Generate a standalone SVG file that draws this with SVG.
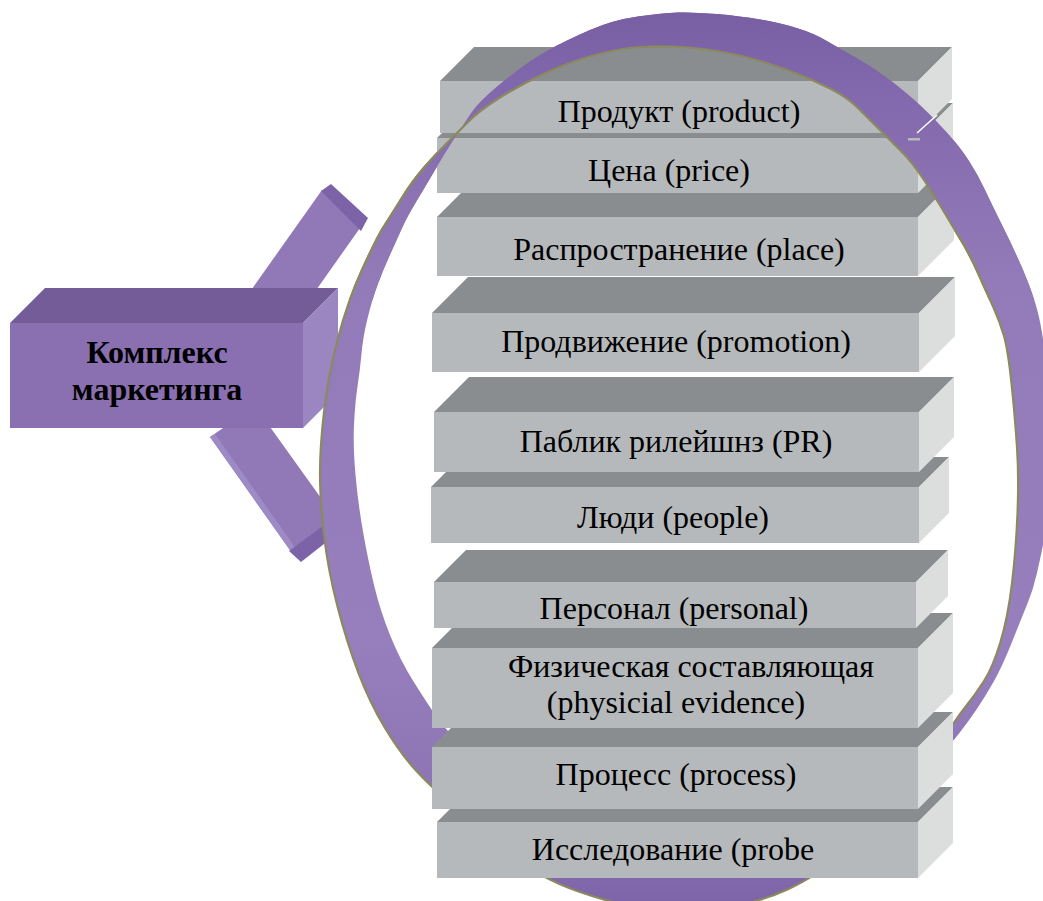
<svg xmlns="http://www.w3.org/2000/svg" width="1043" height="901" viewBox="0 0 1043 901">
<defs>
<style>
.top{fill:#8a8d90}
.front{fill:#b6b9bb}
.side{fill:#dcdedd}
.lbl{font-family:"Liberation Serif","Times New Roman",serif;font-size:32px;fill:#000;text-anchor:middle}
.klbl{font-family:"Liberation Serif","Times New Roman",serif;font-size:32px;font-weight:bold;fill:#000;text-anchor:middle}
.ktop{fill:#735c98}
.kfront{fill:#8a70b0}
.kside{fill:#9c86c2}
.shaft{fill:#9079b6}
.cap{fill:#7c63a8}
.hl{fill:#9e8ac5}
.olive{fill:none;stroke:#8a8a5e;stroke-width:2.2;stroke-linejoin:round}
</style>
<linearGradient id="ringGrad" gradientUnits="userSpaceOnUse" x1="0" y1="12" x2="0" y2="910">
<stop offset="0" stop-color="#785ea2"/>
<stop offset="0.1" stop-color="#8369ad"/>
<stop offset="0.3" stop-color="#937bb9"/>
<stop offset="0.7" stop-color="#967fbc"/>
<stop offset="0.9" stop-color="#8c73b3"/>
<stop offset="1" stop-color="#7c62a7"/>
</linearGradient>
<path id="bandShape" fill="url(#ringGrad)" fill-rule="evenodd" d="M630,48 Q647,46 670,46.5 Q693,47 716.5,51 Q740,55 760,61 Q780,67 796.5,73.5 Q813,80 830,88.5 Q847,97 858.5,108.5 Q870,120 880,130 Q890,140 901.5,151.5 Q913,163 925,181.5 Q937,200 945,213.5 Q953,227 961.5,241 Q970,255 978.5,274 Q987,293 993.5,307.5 Q1000,322 1004,336 Q1008,350 1011.5,383.5 Q1015,417 1017,447 Q1019,477 1017.5,513.5 Q1016,550 1012,583.5 Q1008,617 1000.5,642 Q993,667 984,681 Q975,695 965,707.5 Q955,720 940,745 Q925,770 902.5,797.5 Q880,825 847.5,851 Q815,877 787.5,889.5 Q760,902 725,908 Q690,914 655,910 Q620,906 578.5,891.5 Q537,877 508.5,852.5 Q480,828 456,808 Q432,788 416,770.5 Q400,753 385,728 Q370,703 358.5,673 Q347,643 337.5,606.5 Q328,570 324,535 Q320,500 320,473.5 Q320,447 324,412 Q328,377 337.5,340 Q347,303 362,270 Q377,237 383.5,227 Q390,217 401.5,198.5 Q413,180 425,166.5 Q437,153 447,143 Q457,133 468.5,121.5 Q480,110 500,97.5 Q520,85 543.5,74 Q567,63 590,56.5 Q613,50 630,48 Z M678,12.5 Q693,12 716.5,14 Q740,16 760,19.5 Q780,23 796.5,28 Q813,33 825,40 Q837,47 855,57 Q873,67 890,80 Q907,93 920,105 Q933,117 946.5,132 Q960,147 969,161 Q978,175 985.5,191 Q993,207 1003,227 Q1013,247 1023,270 Q1033,293 1038,313 Q1043,333 1046.5,366.5 Q1050,400 1051,430 Q1052,460 1050,490 Q1048,520 1044,540 Q1040,560 1036.5,575 Q1033,590 1027.5,603.5 Q1022,617 1012,642 Q1002,667 993.5,682 Q985,697 976.5,709.5 Q968,722 959,733.5 Q950,745 925,772.5 Q900,800 865,820 Q830,840 785,849 Q740,858 695,856.5 Q650,855 605,837.5 Q560,820 525,795 Q490,770 468.5,751 Q447,732 437,717.5 Q427,703 413.5,681.5 Q400,660 390,635 Q380,610 374,585 Q368,560 363,531.5 Q358,503 355.5,475 Q353,447 354,425 Q355,403 357.5,386.5 Q360,370 361.5,353.5 Q363,337 367.5,318.5 Q372,300 377.5,285 Q383,270 390.5,253.5 Q398,237 402.5,227 Q407,217 416,202 Q425,187 435,170 Q445,153 454,139 Q463,125 471.5,112.5 Q480,100 505,80 Q530,60 548.5,50 Q567,40 590,30 Q613,20 638,16.5 Q663,13 678,12.5 Z"/>
<path id="oliveLine" class="olive" d="M630,48 Q647,46 670,46.5 Q693,47 716.5,51 Q740,55 760,61 Q780,67 796.5,73.5 Q813,80 830,88.5 Q847,97 858.5,108.5 Q870,120 880,130 Q890,140 901.5,151.5 Q913,163 925,181.5 Q937,200 945,213.5 Q953,227 961.5,241 Q970,255 978.5,274 Q987,293 993.5,307.5 Q1000,322 1004,336 Q1008,350 1011.5,383.5 Q1015,417 1017,447 Q1019,477 1017.5,513.5 Q1016,550 1012,583.5 Q1008,617 1000.5,642 Q993,667 984,681 Q975,695 965,707.5 Q955,720 940,745 Q925,770 902.5,797.5 Q880,825 847.5,851 Q815,877 787.5,889.5 Q760,902 725,908 Q690,914 655,910 Q620,906 578.5,891.5 Q537,877 508.5,852.5 Q480,828 456,808 Q432,788 416,770.5 Q400,753 385,728 Q370,703 358.5,673 Q347,643 337.5,606.5 Q328,570 324,535 Q320,500 320,473.5 Q320,447 324,412 Q328,377 337.5,340 Q347,303 362,270 Q377,237 383.5,227 Q390,217 401.5,198.5 Q413,180 425,166.5 Q437,153 447,143 Q457,133 468.5,121.5 Q480,110 500,97.5 Q520,85 543.5,74 Q567,63 590,56.5 Q613,50 630,48 Z"/>
<clipPath id="frontClip"><rect x="0" y="0" width="1043" height="300"/></clipPath>
</defs>
<rect x="0" y="0" width="1043" height="901" fill="#ffffff"/>

<g id="connectors">
<g id="arrow-up">
<polygon class="shaft" points="237,310 322,190 360,228 302,310"/>
<polygon class="cap" points="321,191 331,184 368,218 361,231"/>
</g>
<g id="arrow-down">
<polygon class="shaft" points="210,437 292,553 336,519 255,406"/>
<polygon class="hl" points="210,437 292,553 297,550 215,434"/>
<polygon class="cap" points="289,551 301,562 343,529 334,518"/>
</g>
</g>

<g id="node-kompleks">
<polygon class="ktop" points="10,323 45,288 338,288 303,323"/>
<polygon class="kside" points="303,323 338,288 338,393 303,428"/>
<rect class="kfront" x="10" y="323" width="293" height="105"/>
<text class="klbl" x="157" y="363">Комплекс</text>
<text class="klbl" x="157" y="400">маркетинга</text>
</g>

<g id="ring-back">
<use href="#bandShape"/>
<use href="#oliveLine"/>
</g>

<g id="node-issledovanie">
<polygon class="top" points="437,822 472,787 953,787 918,822"/>
<polygon class="side" points="918,822 953,787 953,843 918,878"/>
<rect class="front" x="437" y="822" width="481" height="56"/>
<text class="lbl" x="673" y="860">Исследование (probe</text>
</g>
<g id="node-process">
<polygon class="top" points="432,747 467,712 953,712 918,747"/>
<polygon class="side" points="918,747 953,712 953,774 918,809"/>
<rect class="front" x="432" y="747" width="486" height="62"/>
<text class="lbl" x="676" y="785">Процесс (process)</text>
</g>
<g id="node-physical">
<polygon class="top" points="432,648 467,613 953,613 918,648"/>
<polygon class="side" points="918,648 953,613 953,693 918,728"/>
<rect class="front" x="432" y="648" width="486" height="80"/>
<text class="lbl" x="691" y="677">Физическая составляющая</text>
<text class="lbl" x="676" y="713">(physicial evidence)</text>
</g>
<g id="node-personal">
<polygon class="top" points="434,582 466,550 948,550 916,582"/>
<polygon class="side" points="916,582 948,550 948,596 916,628"/>
<rect class="front" x="434" y="582" width="482" height="46"/>
<text class="lbl" x="674" y="619">Персонал (personal)</text>
</g>
<g id="node-people">
<polygon class="top" points="431,487 461,457 949,457 919,487"/>
<polygon class="side" points="919,487 949,457 949,513 919,543"/>
<rect class="front" x="431" y="487" width="488" height="56"/>
<text class="lbl" x="673" y="528">Люди (people)</text>
</g>
<g id="node-pr">
<polygon class="top" points="434,412 469,377 954,377 919,412"/>
<polygon class="side" points="919,412 954,377 954,437 919,472"/>
<rect class="front" x="434" y="412" width="485" height="60"/>
<text class="lbl" x="676" y="452">Паблик рилейшнз (PR)</text>
</g>
<g id="node-promotion">
<polygon class="top" points="432,313 468,277 955,277 919,313"/>
<polygon class="side" points="919,313 955,277 955,336 919,372"/>
<rect class="front" x="432" y="313" width="487" height="59"/>
<text class="lbl" x="676" y="352">Продвижение (promotion)</text>
</g>
<g id="node-place">
<polygon class="top" points="437,217 473,181 954,181 918,217"/>
<polygon class="side" points="918,217 954,181 954,240 918,276"/>
<rect class="front" x="437" y="217" width="481" height="59"/>
<text class="lbl" x="679" y="260">Распространение (place)</text>
</g>
<g id="node-price">
<polygon class="top" points="437,138 472,103 953,103 918,138"/>
<polygon class="side" points="918,138 953,103 953,158 918,193"/>
<rect class="front" x="437" y="138" width="481" height="55"/>
<text class="lbl" x="669" y="181">Цена (price)</text>
</g>
<g id="node-product">
<polygon class="top" points="440,81 474,47 952,47 918,81"/>
<polygon class="side" points="918,81 952,47 952,99 918,133"/>
<rect class="front" x="440" y="81" width="478" height="52"/>
<text class="lbl" x="679" y="122">Продукт (product)</text>
</g>

<g id="ring-front" clip-path="url(#frontClip)">
<use href="#bandShape"/>
<use href="#oliveLine"/>
</g>
<line x1="917" y1="133" x2="937" y2="115" stroke="#ffffff" stroke-width="1.5"/>
<rect x="908" y="138" width="12" height="2.5" fill="#b6b9bb"/>
</svg>
